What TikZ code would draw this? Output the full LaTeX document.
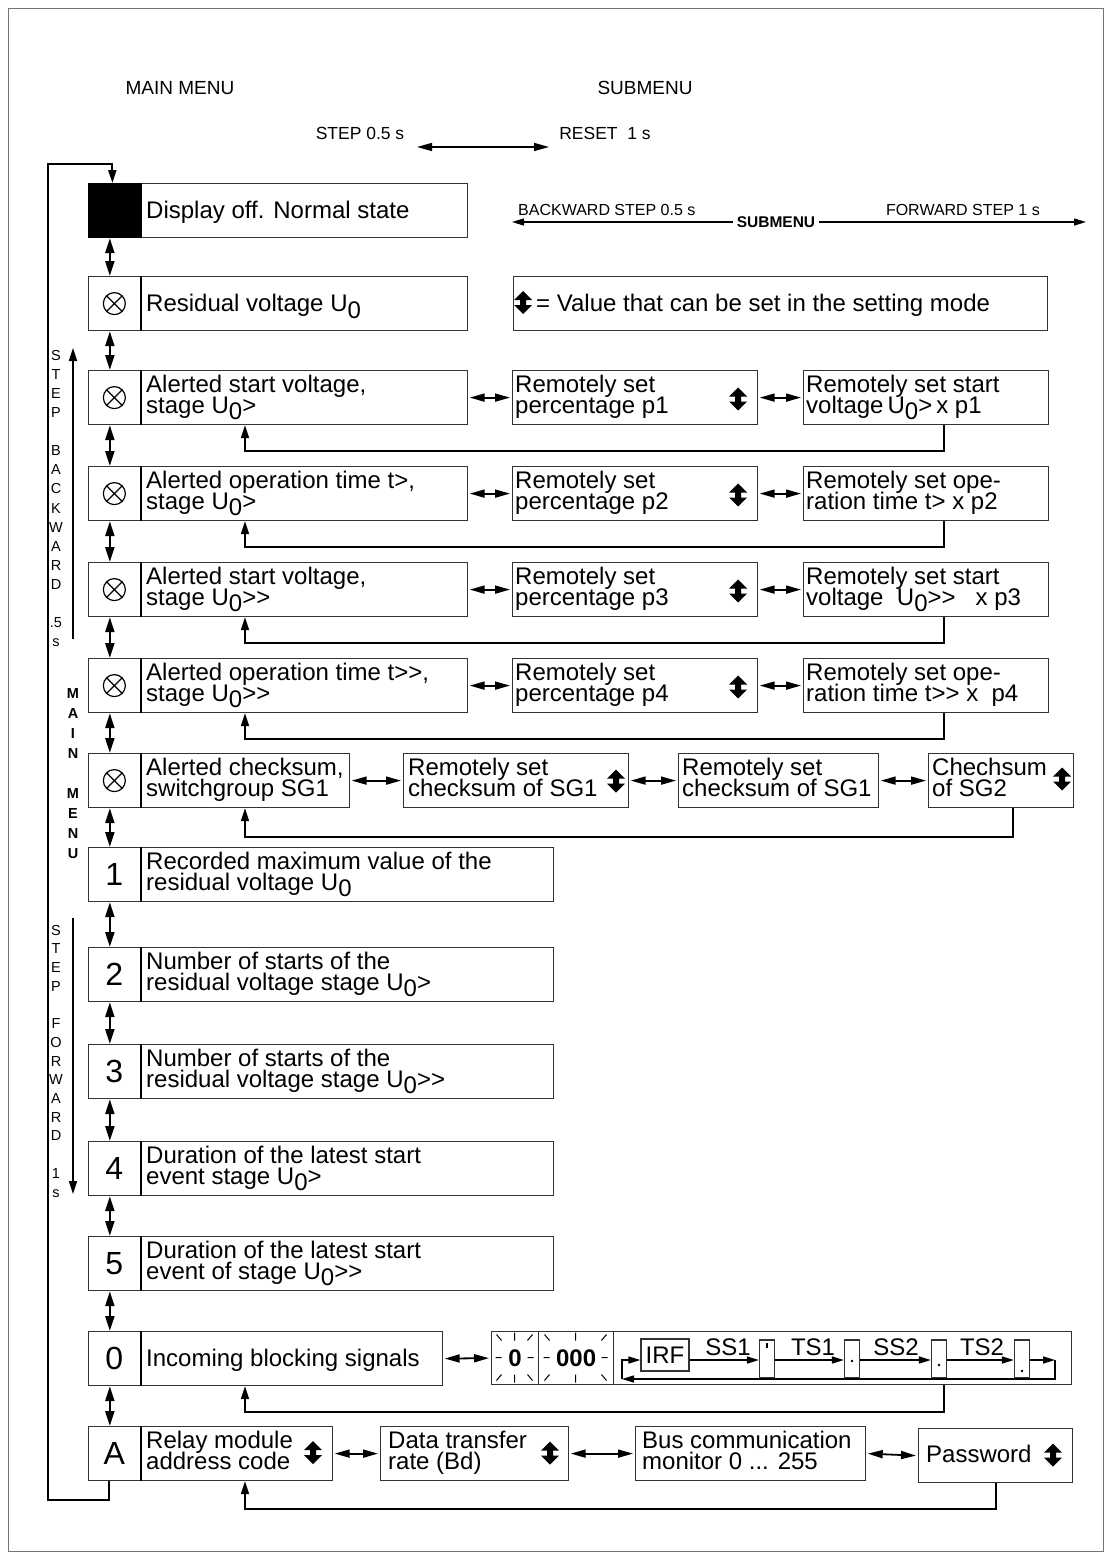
\documentclass[tikz,border=0pt]{standalone}
\usepackage{fontspec}
\setmainfont{Liberation Sans}
\usetikzlibrary{arrows.meta}
\newcommand\zs{\raisebox{-6.5pt}{0}}
\newcommand\gtgt{>\kern0pt>}
\newcommand\st{\rule{0pt}{18pt}}
\newcommand\vs{\rule{0pt}{12pt}}
\newcommand\tfont{\fontsize{24}{21}\selectfont\lineskiplimit=-50pt\relax}
\newcommand\vbfont{\fontsize{14.5}{19.1}\selectfont\lineskiplimit=-50pt\relax}
\newcommand\vffont{\fontsize{14.5}{18.7}\selectfont\lineskiplimit=-50pt\relax}
\newcommand\vmfont{\bfseries\fontsize{14.5}{20}\selectfont\lineskiplimit=-50pt\relax}
\tikzset{
  mbox/.style={draw=black!80, line width=1.2pt, inner sep=0pt, minimum height=54pt, anchor=north west},
  cellbox/.style={mbox, minimum width=51.5pt, font=\fontsize{32}{32}\selectfont},
  div/.style={line width=2.2pt},
  txt/.style={inner sep=0pt, anchor=north west, align=left, font=\tfont},
  hdr/.style={inner sep=0pt, font=\fontsize{19}{19}\selectfont},
  sml/.style={inner sep=0pt, font=\fontsize{17.5}{17.5}\selectfont},
  vstk/.style={inner sep=0pt, anchor=north, align=center},
  vdbl/.style={line width=2.2pt, >={Triangle[length=15pt,width=9pt]}, <->},
  hdbl/.style={line width=1.8pt, >={Triangle[length=15pt,width=8pt]}, <->},
  ret/.style={line width=2pt, >={Triangle[length=13pt,width=8pt]}, ->},
  sarr/.style={line width=1.5pt, >={Triangle[length=12pt,width=7pt]}, ->},
  updn/.pic={\fill (0,-11.5) -- (9,-2.5) -- (3,-2.5) -- (3,2.5) -- (9,2.5) -- (0,11.5) -- (-9,2.5) -- (-3,2.5) -- (-3,-2.5) -- (-9,-2.5) -- cycle;},
  otimes/.pic={\draw[line width=1.2pt] (0,0) circle[radius=11] (-7.8,-7.8) -- (7.8,7.8) (-7.8,7.8) -- (7.8,-7.8);},
  sbx/.style={draw=black!80, line width=1.2pt, inner sep=0pt, minimum width=15pt, minimum height=38pt},
}
\newcommand\mrow[4]{%
  \node[cellbox] (c#1) at (88,#2) {#4};
  \node[mbox, minimum width={#3-139.5}] (b#1) at (139.5,#2) {};
  \draw[div] (c#1.north east) -- (c#1.south east);}
\newcommand\rays[3]{%
  \begin{scope}[shift={(#1,#2)}, line width=1pt]
  \draw (-#3-8,0) -- (-#3-2,0) (#3+2,0) -- (#3+8,0) (0,-25) -- (0,-17) (0,17) -- (0,25)
   (-#3-7,-23) -- (-#3-2,-17) (#3+7,-23) -- (#3+2,-17) (-#3-7,23) -- (-#3-2,17) (#3+7,23) -- (#3+2,17);
  \end{scope}}
\begin{document}
\begin{tikzpicture}[x=1pt,y=-1pt]
\useasboundingbox (0,0) rectangle (1112,1560);
\draw[draw=black!55, line width=1pt] (8.5,8.5) rectangle (1103.5,1551.5);

% headers
\node[hdr] (mm) at (180,88) {MAIN MENU};
\node[hdr] (sm) at (645,88) {SUBMENU};
\node[sml] (stp) at (360,133) {STEP 0.5 s};
\node[sml] (rst) at (605,133) {RESET\ \ 1 s};
\coordinate (ra) at (417,147); \coordinate (rb) at (549,147);
\draw[hdbl, line width=1.5pt] (ra) -- (rb);

\node[inner sep=0pt, anchor=base west, font=\fontsize{16}{16}\selectfont] (bws) at (518,215) {BACKWARD STEP 0.5 s};
\node[inner sep=0pt, anchor=base east, font=\fontsize{16}{16}\selectfont] (fws) at (1040,215) {FORWARD STEP 1 s};
\node[inner sep=4pt, font=\bfseries\fontsize{15.5}{15.5}\selectfont] (smu) at (776,222) {SUBMENU};
\coordinate (smL) at (512,222); \coordinate (smR) at (1086,222);
\draw[sarr] (smu.west) -- (smL);
\draw[sarr] (smu.east) -- (smR);

% legend
\node[mbox, minimum width=534pt] (leg) at (513,276) {};
\pic at (523,302.5) {updn};
\node[txt] (legt) at (536,293.5) {\st = Value that can be set in the setting mode};

% main rows
\mrow{1}{183}{467}{}
\fill (c1.north west) rectangle (c1.south east);
\node[txt] (t1) at (146,200.5) {\st Display off. Normal state};
\mrow{2}{276}{467}{} \pic at (c2) {otimes};
\node[txt] (t2) at (146,293.5) {\st Residual voltage U\zs};
\mrow{3}{370}{467}{} \pic at (c3) {otimes};
\node[txt] (t3) at (146,374) {\st Alerted start voltage,\\stage U\zs>};
\mrow{4}{466}{467}{} \pic at (c4) {otimes};
\node[txt] (t4) at (146,470) {\st Alerted operation time t>,\\stage U\zs>};
\mrow{5}{562}{467}{} \pic at (c5) {otimes};
\node[txt] (t5) at (146,566) {\st Alerted start voltage,\\stage U\zs\gtgt};
\mrow{6}{658}{467}{} \pic at (c6) {otimes};
\node[txt] (t6) at (146,662) {\st Alerted operation time t\gtgt,\\stage U\zs\gtgt};
\mrow{7}{753}{349}{} \pic at (c7) {otimes};
\node[txt] (t7) at (146,757) {\st Alerted checksum,\\switchgroup SG1};
\mrow{8}{847}{553}{1}
\node[txt] (t8) at (146,851) {\st Recorded maximum value of the\\residual voltage U\zs};
\mrow{9}{947}{553}{2}
\node[txt] (t9) at (146,951) {\st Number of starts of the\\residual voltage stage U\zs>};
\mrow{10}{1044}{553}{3}
\node[txt] (t10) at (146,1048) {\st Number of starts of the\\residual voltage stage U\zs\gtgt};
\mrow{11}{1141}{553}{4}
\node[txt] (t11) at (146,1145) {\st Duration of the latest start\\event stage U\zs>};
\mrow{12}{1236}{553}{5}
\node[txt] (t12) at (146,1240) {\st Duration of the latest start\\event of stage U\zs\gtgt};
\mrow{13}{1331}{442}{0}
\node[txt] (t13) at (146,1348.5) {\st Incoming blocking signals};
\mrow{14}{1426}{332}{A}
\node[txt] (t14) at (146,1430) {\st Relay module\\address code};
\pic at (313,1452.5) {updn};

% main vertical double arrows
\foreach \a/\b in {1/2,2/3,3/4,4/5,5/6,6/7,7/8,8/9,9/10,10/11,11/12,12/13,13/14}
  \draw[vdbl] ([xshift=-4.5pt]c\a.south) -- ([xshift=-4.5pt]c\b.north);

% left loop
\coordinate (lpA) at (48,1500); \coordinate (lpB) at (48,164);
\draw[ret] ([xshift=-5.75pt]c14.south) |- (lpA) -- (lpB) -| ([xshift=-2pt]c1.north);

% left vertical labels
\node[vstk, font=\vbfont] (vb) at (56,348)
  {\vs S\\T\\E\\P\\[19.1pt]B\\A\\C\\K\\W\\A\\R\\D\\[19.1pt].5\\s};
\node[vstk, font=\vffont] (vf) at (56,923)
  {\vs S\\T\\E\\P\\[18.7pt]F\\O\\R\\W\\A\\R\\D\\[18.7pt]1\\s};
\node[vstk, font=\vmfont] (vm) at (73,686)
  {\vs M\\A\\I\\N\\[20pt]M\\E\\N\\U};
\coordinate (ab1) at (73,639); \coordinate (ab2) at (73,348);
\draw[ret, line width=1.8pt] (ab1) -- (ab2);
\coordinate (af1) at (73,918); \coordinate (af2) at (73,1194);
\draw[ret, line width=1.8pt] (af1) -- (af2);

\coordinate (rx) at (245,0);

% submenu rows 3-6
\foreach \r/\t/\p/\la/\lb in {3/370/1/{Remotely set start}/{voltage\,U\zs>\,x p1},
                            4/466/2/{Remotely set ope-}/{ration time t> x p2},
                            5/562/3/{Remotely set start}/{voltage\ \ U\zs\gtgt\ \ \ x p3},
                            6/658/4/{Remotely set ope-}/{ration time t\gtgt\ x\ \ p4}}{
  \node[mbox, minimum width=245pt] (sa\r) at (512,\t) {};
  \node[mbox, minimum width=245pt] (sb\r) at (803,\t) {};
  \node[txt] (ta\r) at (515,\t+4) {\st Remotely set\\percentage p\p};
  \node[txt] (tb\r) at (806,\t+4) {\st \la\\\lb};
  \pic at (738,\t+29) {updn};
  \draw[hdbl] ([xshift=1.5pt]b\r.east) -- ([xshift=-2pt]sa\r.west);
  \draw[hdbl] ([xshift=1.5pt]sa\r.east) -- ([xshift=-2pt]sb\r.west);
  \draw[ret] ([xshift=17.5pt]sb\r.south) -- ++(0,26) -| (b\r.south -| rx);
}

% checksum row
\node[mbox, minimum width=225pt] (sa7) at (403,753) {};
\node[mbox, minimum width=200pt] (sb7) at (678,753) {};
\node[mbox, minimum width=145pt] (sc7) at (928,753) {};
\node[txt] (ta7) at (408,757) {\st Remotely set\\checksum of SG1};
\node[txt] (tb7) at (682,757) {\st Remotely set\\checksum of SG1};
\node[txt] (tc7) at (932,757) {\st Chechsum\\of SG2};
\pic at (616,781) {updn};
\pic at (1062,779) {updn};
\draw[hdbl] ([xshift=1.5pt]b7.east) -- ([xshift=-2pt]sa7.west);
\draw[hdbl] ([xshift=1.5pt]sa7.east) -- ([xshift=-2pt]sb7.west);
\draw[hdbl] ([xshift=1.5pt]sb7.east) -- ([xshift=-2pt]sc7.west);
\draw[ret] ([xshift=11.5pt]sc7.south) -- ++(0,29) -| (b7.south -| rx);

% row 0 display group
\node[mbox, minimum width=580pt, minimum height=53pt] (grp) at (491,1331) {};
\node[mbox, minimum width=47pt, minimum height=53pt, font=\bfseries\fontsize{24}{24}\selectfont] (d0) at (491,1331) {0};
\node[mbox, minimum width=75pt, minimum height=53pt, font=\bfseries\fontsize{24}{24}\selectfont] (d000) at (538,1331) {000};
\rays{514.5}{1357.5}{11}
\rays{575.5}{1357.5}{24}
\node[draw=black!80, line width=1.2pt, inner sep=0pt, minimum width=48pt, minimum height=32pt, font=\fontsize{24}{24}\selectfont] (irf) at (665,1355) {IRF};
\node[sbx] (q1) at (767,1359) {};
\node[sbx] (q2) at (852,1359) {};
\node[sbx] (q3) at (939,1359) {};
\node[sbx] (q4) at (1022,1359) {};
\fill (766.2,1343) rectangle (767.8,1348);
\fill (852,1361) circle[radius=1.3];
\fill (939,1365) circle[radius=1.3];
\fill (1022,1371) circle[radius=1.3];
\node[inner sep=0pt, font=\fontsize{24}{24}\selectfont] (l1) at (728,1347) {SS1};
\node[inner sep=0pt, font=\fontsize{24}{24}\selectfont] (l2) at (813,1347) {TS1};
\node[inner sep=0pt, font=\fontsize{24}{24}\selectfont] (l3) at (896,1347) {SS2};
\node[inner sep=0pt, font=\fontsize{24}{24}\selectfont] (l4) at (982,1347) {TS2};
\draw[sarr] ([yshift=-5pt]irf.east) -- ([yshift=-1pt]q1.west);
\draw[sarr] ([yshift=-1pt]q1.east) -- ([yshift=-1pt]q2.west);
\draw[sarr] ([yshift=-1pt]q2.east) -- ([yshift=-1pt]q3.west);
\draw[sarr] ([yshift=-1pt]q3.east) -- ([yshift=-1pt]q4.west);
\coordinate (le) at (1055,1360); \coordinate (lb) at (622,1379);
\draw[sarr] ([yshift=-1pt]q4.east) -- (le);
\draw[sarr] (le) |- (lb);
\draw[sarr] (lb) |- ([yshift=-5pt]irf.west);
\draw[hdbl] ([xshift=1.5pt]b13.east) -- ([xshift=-2pt]grp.west);
\draw[ret] ([xshift=162pt]grp.south) -- ++(0,27) -| (b13.south -| rx);

% row A
\node[mbox, minimum width=188pt] (sa14) at (380,1426) {};
\node[mbox, minimum width=230pt] (sb14) at (635,1426) {};
\node[mbox, minimum width=154pt] (sc14) at (918,1428) {};
\node[txt] (ta14) at (388,1430) {\st Data transfer\\rate (Bd)};
\node[txt] (tb14) at (642,1430) {\st Bus communication\\monitor 0 ... 255};
\node[txt] (tc14) at (926,1444.5) {\st Password};
\pic at (550,1453) {updn};
\pic at (1053,1455) {updn};
\draw[hdbl] ([xshift=1.5pt]b14.east) -- ([xshift=-2pt]sa14.west);
\draw[hdbl] ([xshift=1.5pt]sa14.east) -- ([xshift=-2pt]sb14.west);
\draw[hdbl] ([xshift=1.5pt]sb14.east) -- ([xshift=-2pt]sc14.west);
\draw[ret] (sc14.south) -- ++(0,26) -| (b14.south -| rx);
\end{tikzpicture}
\end{document}
